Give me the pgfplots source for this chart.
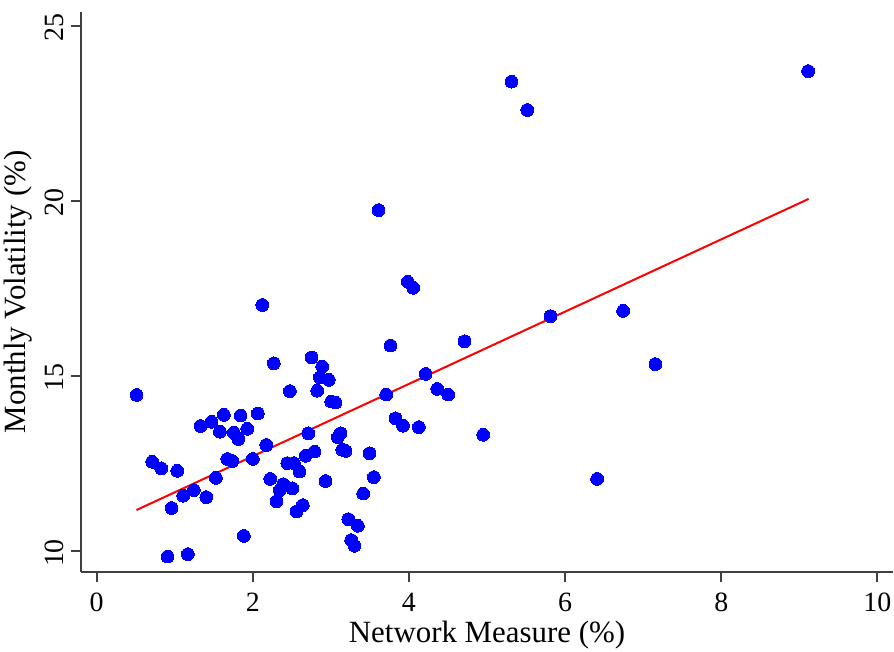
\documentclass[border=0pt]{standalone}
\usepackage{fontspec}
\setmainfont{Liberation Serif}
\usepackage{pgfplots}
\usepackage{pgfplotstable}
\pgfplotsset{compat=1.18}
\definecolor{dotblue}{RGB}{0,0,255}
\definecolor{fitred}{RGB}{255,0,0}
\pgfplotstableread{
x y
2.122 17.03
2.270 15.36
2.753 15.53
2.890 15.27
2.859 14.96
2.974 14.89
2.475 14.57
2.826 14.58
0.512 14.46
3.005 14.27
3.060 14.24
1.332 13.57
1.472 13.69
1.630 13.89
1.844 13.87
2.065 13.93
1.579 13.41
1.758 13.38
1.814 13.20
1.930 13.49
2.173 13.03
2.711 13.36
3.124 13.36
3.090 13.25
0.713 12.55
0.828 12.36
1.033 12.29
1.673 12.63
1.738 12.57
2.001 12.63
2.442 12.51
2.526 12.51
2.599 12.27
2.676 12.72
2.791 12.84
3.146 12.89
3.188 12.86
1.528 12.09
2.224 12.06
2.391 11.91
2.347 11.74
2.506 11.79
2.932 12.00
1.246 11.74
1.110 11.58
1.405 11.54
0.960 11.23
2.305 11.42
2.641 11.31
2.561 11.13
1.886 10.43
0.909 9.84
1.169 9.91
3.223 10.91
3.346 10.72
3.261 10.31
3.303 10.15
3.415 11.64
3.551 12.11
3.496 12.79
3.764 15.87
4.712 15.99
4.213 15.06
4.362 14.63
4.503 14.47
3.709 14.47
3.828 13.79
3.924 13.58
4.127 13.54
4.951 13.32
5.314 23.41
5.515 22.60
9.113 23.71
3.986 17.69
4.055 17.52
5.813 16.71
6.744 16.86
7.157 15.34
6.411 12.06
3.611 19.74
}\pts
\begin{document}
\begin{tikzpicture}
\begin{axis}[
  scale only axis, width=406bp, height=280bp,
  xmin=-0.2, xmax=10.2, ymin=9.4, ymax=25.4,
  axis x line*=bottom, axis y line*=left,
  axis line style={draw=black!75, line width=1bp},
  xtick={0,2,...,10}, ytick={10,15,20,25},
  tick align=outside, major tick length=5bp,
  tick style={draw=black!75, line width=1bp},
  /pgf/number format/assume math mode=true,
  ticklabel style={font=\fontsize{14}{16}\selectfont},
  xticklabel style={yshift=-2bp},
  yticklabel style={rotate=90, anchor=south, xshift=-1bp},
  xlabel={Network Measure (\%)},
  ylabel={Monthly Volatility (\%)},
  label style={font=\fontsize{15.5}{18}\selectfont},
  xlabel style={at={(axis description cs:0.5,0)}, anchor=center, yshift=-31.5bp},
  ylabel style={at={(axis description cs:0,0.5)}, anchor=center, rotate=0, yshift=31.5bp},
  clip=false,
]
\addplot[only marks, mark=*, mark size=3.2bp, color=dotblue, mark options={fill=dotblue, draw=dotblue, line width=0pt}] table[x=x,y=y] {\pts};
\addplot[draw=fitred, line width=1bp] coordinates {(0.51,11.17) (9.12,20.06)};
\end{axis}
\pgfresetboundingbox
\path ([shift={(-40.5bp,-40bp)}]current axis.south west) rectangle ([shift={(0.5bp,6bp)}]current axis.north east);
\end{tikzpicture}
\end{document}
